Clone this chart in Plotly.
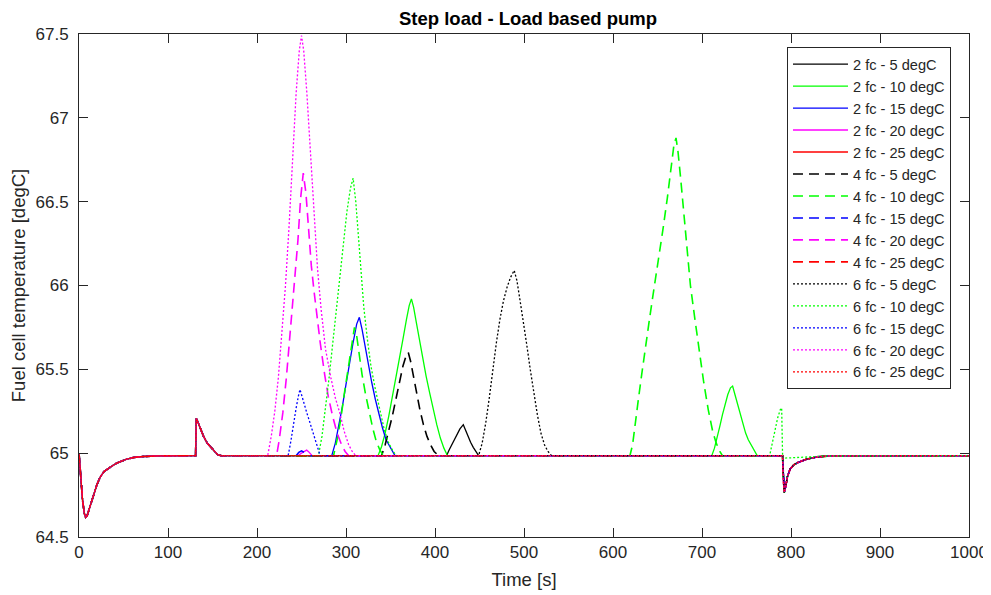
import plotly.graph_objects as go

# ---- shared parts of every run ----
t_start = [0, 2, 4, 6, 7.5, 9, 11, 13, 16, 20, 23.6, 28, 34.8, 42, 53.6, 62, 72, 90,
           131, 131.8, 134, 137, 140, 144, 148, 152, 156, 160]
T_start = [65.0, 64.84, 64.72, 64.64, 64.617, 64.625, 64.66, 64.70, 64.75, 64.81, 64.855, 64.89,
           64.915, 64.94, 64.964, 64.975, 64.98, 64.984,
           64.985, 65.206, 65.18, 65.14, 65.10, 65.06, 65.035, 65.012, 64.99, 64.985]

t_end = [790.5, 791.3, 792.5, 794, 796, 799, 803, 808, 818, 830, 845, 1000]
T_end = [64.985, 64.85, 64.766, 64.80, 64.86, 64.905, 64.93, 64.945, 64.965, 64.978, 64.984, 64.985]

t_end_nodip = [790.6, 800, 818, 840, 1000]
T_end_nodip = [64.97, 64.972, 64.975, 64.983, 64.985]

# ---- peaks of each run ----
t_2fc_5 = [413, 416, 419, 422, 425, 428, 431.8, 434, 437, 440, 443, 446, 449]
T_2fc_5 = [64.985, 65.02, 65.05, 65.085, 65.115, 65.145, 65.17, 65.14, 65.1, 65.065, 65.035, 65.01, 64.985]

t_2fc_10 = [336, 340, 344, 348, 352, 356, 360, 364, 368, 371, 373.5, 376, 379, 382, 386, 390, 394,
            398, 402, 406, 410, 414,
            711, 714, 717, 720, 723, 726, 729, 732, 734.4, 737, 740, 743, 746, 749, 752, 756, 759, 762]
T_2fc_10 = [64.985, 65.04, 65.12, 65.22, 65.33, 65.44, 65.56, 65.68, 65.8, 65.88, 65.92, 65.87, 65.78,
            65.69, 65.57, 65.46, 65.36, 65.26, 65.17, 65.09, 65.03, 64.985,
            64.985, 65.03, 65.09, 65.16, 65.23, 65.29, 65.35, 65.39, 65.40, 65.35, 65.29, 65.23, 65.17,
            65.12, 65.08, 65.04, 65.01, 64.985]

t_2fc_15 = [284, 288, 292, 296, 300, 304, 308, 312, 315, 318, 321, 325, 329, 333, 337, 341, 345, 350, 355]
T_2fc_15 = [64.985, 65.06, 65.16, 65.28, 65.41, 65.54, 65.66, 65.77, 65.81, 65.74, 65.65, 65.53, 65.42,
            65.32, 65.23, 65.15, 65.08, 65.03, 64.985]

t_2fc_20 = [246, 250, 253, 255.8, 258, 262]
T_2fc_20 = [64.985, 65.0, 65.012, 65.018, 65.008, 64.985]

t_2fc_25 = []
T_2fc_25 = []

t_4fc_5 = [340, 344, 348, 352, 356, 360, 364, 367.5, 370, 372.5, 375.5, 379, 383, 387, 391, 395, 399, 404]
T_4fc_5 = [64.985, 65.05, 65.13, 65.22, 65.32, 65.42, 65.52, 65.58, 65.6, 65.55, 65.46, 65.36, 65.26,
           65.17, 65.1, 65.05, 65.01, 64.985]

t_4fc_10 = [286, 290, 294, 298, 302, 306, 309.5, 312, 315, 318, 322, 326, 330, 334, 338, 342,
            619, 622, 625, 628, 632, 636, 641, 646, 651, 656, 661, 665, 668.5, 670.8, 673, 676,
            679.5, 683, 687, 692, 697, 702, 707, 712, 716, 720, 723]
T_4fc_10 = [64.985, 65.08, 65.2, 65.35, 65.5, 65.65, 65.75, 65.7, 65.58, 65.47, 65.35, 65.24, 65.15,
            65.07, 65.02, 64.985,
            64.985, 65.05, 65.16, 65.3, 65.46, 65.62, 65.8, 65.98, 66.15, 66.33, 66.52, 66.7, 66.84,
            66.88, 66.8, 66.64, 66.42, 66.2, 66.0, 65.8, 65.6, 65.42, 65.26, 65.13, 65.06, 65.01, 64.985]

t_4fc_15 = [244, 247, 250, 253, 256]
T_4fc_15 = [64.985, 65.005, 65.014, 65.005, 64.985]

t_4fc_20 = [222, 225, 229, 233, 236, 240, 243, 246, 249, 252, 255, 258, 261, 264, 267, 271, 276, 280,
            285, 290, 295, 299, 303]
T_4fc_20 = [64.985, 65.08, 65.24, 65.45, 65.64, 65.84, 66.04, 66.27, 66.52, 66.67, 66.55, 66.32, 66.12,
            65.97, 65.82, 65.66, 65.47, 65.34, 65.22, 65.12, 65.05, 65.01, 64.985]

t_4fc_25 = []
T_4fc_25 = []

t_6fc_5 = [449, 453, 457, 461, 465, 469, 473, 477, 481, 485, 489, 492, 495, 499, 503, 507, 511, 515,
           519, 523, 527, 531]
T_6fc_5 = [64.985, 65.06, 65.18, 65.33, 65.5, 65.66, 65.8, 65.91, 65.99, 66.05, 66.09, 66.03, 65.93,
           65.8, 65.65, 65.5, 65.36, 65.23, 65.12, 65.05, 65.01, 64.985]

t_6fc_10 = [269, 273, 277, 281, 285, 289, 293, 297, 301, 305, 308, 311, 314, 317, 320, 324, 328, 333,
            338, 343, 348, 353, 357,
            776, 779, 782, 785, 788, 789.5]
T_6fc_10 = [64.985, 65.1, 65.26, 65.45, 65.65, 65.85, 66.05, 66.25, 66.44, 66.58, 66.64, 66.5, 66.3,
            66.08, 65.87, 65.68, 65.52, 65.38, 65.25, 65.14, 65.06, 65.01, 64.985,
            64.985, 65.06, 65.14, 65.21, 65.26, 65.27]

t_6fc_15 = [235, 238, 241, 244, 246.5, 248.3, 250.5, 253, 256, 259, 262, 265, 268, 271]
T_6fc_15 = [64.985, 65.07, 65.18, 65.27, 65.34, 65.38, 65.34, 65.29, 65.24, 65.19, 65.14, 65.09, 65.04,
            64.985]

t_6fc_20 = [212, 216, 220, 224, 228, 232, 236, 240, 244, 247.5, 250, 252.5, 256, 260, 264, 268, 272,
            277, 283, 288, 293, 298, 303, 307, 311]
T_6fc_20 = [64.985, 65.1, 65.25, 65.45, 65.7, 66.0, 66.35, 66.75, 67.15, 67.4, 67.49, 67.4, 67.15, 66.8,
            66.42, 66.1, 65.86, 65.62, 65.45, 65.33, 65.24, 65.13, 65.05, 65.01, 64.985]

t_6fc_25 = []
T_6fc_25 = []

labels = ["2 fc - 5 degC", "2 fc - 10 degC", "2 fc - 15 degC", "2 fc - 20 degC", "2 fc - 25 degC",
          "4 fc - 5 degC", "4 fc - 10 degC", "4 fc - 15 degC", "4 fc - 20 degC", "4 fc - 25 degC",
          "6 fc - 5 degC", "6 fc - 10 degC", "6 fc - 15 degC", "6 fc - 20 degC", "6 fc - 25 degC"]

peaks = [(t_2fc_5, T_2fc_5), (t_2fc_10, T_2fc_10), (t_2fc_15, T_2fc_15), (t_2fc_20, T_2fc_20),
         (t_2fc_25, T_2fc_25),
         (t_4fc_5, T_4fc_5), (t_4fc_10, T_4fc_10), (t_4fc_15, T_4fc_15), (t_4fc_20, T_4fc_20),
         (t_4fc_25, T_4fc_25),
         (t_6fc_5, T_6fc_5), (t_6fc_10, T_6fc_10), (t_6fc_15, T_6fc_15), (t_6fc_20, T_6fc_20),
         (t_6fc_25, T_6fc_25)]

no_dip = {"6 fc - 10 degC"}

colors = ["#000000", "#00ff00", "#0000ff", "#ff00ff", "#ff0000"]
dashes = {"2": "solid", "4": "10px,6px", "6": "2px,2px"}
widths = {"2": 1.3, "4": 1.6, "6": 1.3}

fig = go.Figure()
for i, (name, (pt, pv)) in enumerate(zip(labels, peaks)):
    if name in no_dip:
        tt = t_start + pt + t_end_nodip
        vv = T_start + pv + T_end_nodip
    else:
        tt = t_start + pt + t_end
        vv = T_start + pv + T_end
    grp = name[0]
    fig.add_trace(go.Scatter(
        x=tt, y=vv, mode="lines", name=name,
        line=dict(color=colors[i % 5], width=widths[grp], dash=dashes[grp]),
    ))

font_family = "Liberation Sans, Arial, Helvetica, sans-serif"
axis_col = "#262626"

# page body has an 8px margin, so the figure is 8px smaller and margins shifted
fig.update_layout(
    width=983, height=587,
    margin=dict(l=71, r=22, t=26, b=58, autoexpand=False),
    paper_bgcolor="white", plot_bgcolor="white",
    font=dict(family=font_family, size=17, color=axis_col),
    title=dict(text="<b>Step load - Load based pump</b>", x=0.5290, xanchor="center",
               y=0.9815, yanchor="middle", font=dict(size=18.5, color="#000000")),
    showlegend=True,
    legend=dict(x=0.7955, y=0.974, xanchor="left", yanchor="top",
                bgcolor="white", bordercolor=axis_col, borderwidth=1,
                font=dict(size=14.6, color=axis_col), itemwidth=55,
                tracegroupgap=0, traceorder="normal"),
)

fig.update_xaxes(
    range=[0, 1000], tickmode="array", tickvals=list(range(0, 1001, 100)),
    ticks="inside", ticklen=9, tickcolor=axis_col, showline=True, linecolor=axis_col,
    linewidth=1, mirror="ticks", showgrid=False, zeroline=False, automargin=False,
    title=dict(text="Time [s]", font=dict(size=18.5), standoff=11),
    tickfont=dict(size=17),
)
fig.update_yaxes(
    range=[64.5, 67.5], tickmode="array", tickvals=[64.5, 65, 65.5, 66, 66.5, 67, 67.5],
    ticktext=["64.5", "65", "65.5", "66", "66.5", "67", "67.5"],
    ticks="inside", ticklen=9, tickcolor=axis_col, showline=True, linecolor=axis_col,
    linewidth=1, mirror="ticks", showgrid=False, zeroline=False, automargin=False,
    ticklabelstandoff=6,
    title=dict(text="Fuel cell temperature [degC]", font=dict(size=18.5), standoff=6),
    tickfont=dict(size=17),
)

fig.write_html("out.html")
